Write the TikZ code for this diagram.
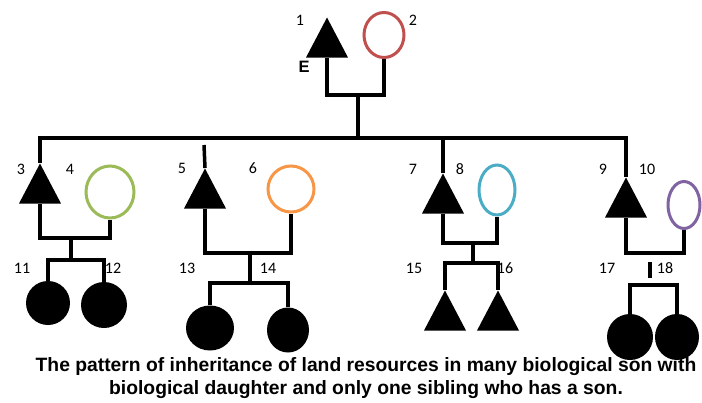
\documentclass[tikz,border=0pt]{standalone}
\usepackage{fontspec}
\setmainfont{Carlito}
\newfontfamily\capfont{Liberation Sans}
\usetikzlibrary{shapes.geometric}
\definecolor{wifered}{HTML}{C0504D}
\definecolor{wifegreen}{HTML}{9BBB59}
\definecolor{wifeorange}{HTML}{F79646}
\definecolor{wifeblue}{HTML}{4BACC6}
\definecolor{wifepurple}{HTML}{8064A2}
\tikzset{
    male/.style={
        isosceles triangle, isosceles triangle stretches,
        shape border rotate=90, fill=black, draw=none,
        minimum width=42pt, minimum height=40pt, inner sep=0pt,
        anchor=apex
    },
    wife/.style={
        ellipse, draw, line width=3pt, inner sep=0pt
    },
    daughter/.style={
        ellipse, fill=black, draw=none, inner sep=0pt
    },
    link/.style={line width=3.5pt},
    num/.style={font=\fontsize{16}{16}\selectfont},
    caption/.style={font=\capfont\bfseries\fontsize{19.3}{23}\selectfont, align=center}
}
\begin{document}
\begin{tikzpicture}[x=1pt, y=-1pt]
    \useasboundingbox (0,0) rectangle (702,402);

    % --- Generation 1: parents ---
    \node[male] (t1) at (327,17) {};
    \node[wife, draw=wifered, minimum width=40pt, minimum height=45pt] (c2) at (384,35) {};
    \node[num] (n1) at (300,20) {1};
    \node[num] (n2) at (413,20) {2};
    \node[font=\capfont\bfseries\fontsize{16.5}{16.5}\selectfont] (e1) at (304,67) {E};

    % --- Generation 2: sons and their wives ---
    \node[male] (t3) at (40,163) {};
    \node[wife, draw=wifegreen, minimum width=48pt, minimum height=52pt] (c4) at (110,192) {};
    \node[male] (t5) at (205,168) {};
    \node[wife, draw=wifeorange, minimum width=46pt, minimum height=46pt] (c6) at (291,189) {};
    \node[male] (t7) at (443,173) {};
    \node[wife, draw=wifeblue, minimum width=36pt, minimum height=50pt] (c8) at (497,190) {};
    \node[male] (t9) at (626,177) {};
    \node[wife, draw=wifepurple, minimum width=32pt, minimum height=47pt] (c10) at (684,205) {};

    \node[num] (n3)  at (21,169)  {3};
    \node[num] (n4)  at (70,169)  {4};
    \node[num] (n5)  at (182,168) {5};
    \node[num] (n6)  at (253,168) {6};
    \node[num] (n7)  at (413,169) {7};
    \node[num] (n8)  at (460,169) {8};
    \node[num] (n9)  at (603,169) {9};
    \node[num] (n10) at (647,169) {10};

    % --- Generation 3: grandchildren ---
    \node[daughter, minimum width=44pt, minimum height=44pt] (c11) at (48,303) {};
    \node[daughter, minimum width=46pt, minimum height=46pt] (c12) at (104,305) {};
    \node[daughter, minimum width=48pt, minimum height=45pt] (c13) at (210,328) {};
    \node[daughter, minimum width=42pt, minimum height=45pt] (c14) at (288,330) {};
    \node[male] (t15) at (445,290) {};
    \node[male] (t16) at (498,290) {};
    \node[daughter, minimum width=46pt, minimum height=46pt] (c17) at (630,337) {};
    \node[daughter, minimum width=44pt, minimum height=46pt] (c18) at (677,337) {};

    \node[num] (n11) at (22,268)  {11};
    \node[num] (n12) at (113,268) {12};
    \node[num] (n13) at (187,268) {13};
    \node[num] (n14) at (268,268) {14};
    \node[num] (n15) at (414,268) {15};
    \node[num] (n16) at (505,268) {16};
    \node[num] (n17) at (607,268) {17};
    \node[num] (n18) at (665,268) {18};

    % --- Junction points ---
    \coordinate (m12)  at (358,95);
    \coordinate (bus)  at (358,138);
    \coordinate (s5)   at (204,145);
    \coordinate (m34)  at (71,238);
    \coordinate (k34)  at (71,260);
    \coordinate (m56)  at (250,253);
    \coordinate (k56)  at (250,283);
    \coordinate (m78)  at (473,243);
    \coordinate (k78)  at (473,263);
    \coordinate (m910) at (657,253);
    \coordinate (b910) at (650,262);
    \coordinate (e910) at (650,278);
    \coordinate (k910) at (653,285);

    % --- Lines ---
    \draw[link] (t1.south) |- (m12) -| (c2.south);
    \draw[link] (m12) -- (bus);
    \draw[link] (t3.apex) |- (bus) -| (t9.apex);
    \draw[link] (t7.apex) -- (t7.apex |- bus);
    \draw[link] (t5.apex) -- (s5);

    \draw[link] (t3.south) |- (m34) -| (c4.south);
    \draw[link] (m34) -- (k34);
    \draw[link] (c11.north) |- (k34) -| (c12.north);

    \draw[link] (t5.south) |- (m56) -| (c6.south);
    \draw[link] (m56) -- (k56);
    \draw[link] (c13.north) |- (k56) -| (c14.north);

    \draw[link] (t7.south) |- (m78) -| (c8.south);
    \draw[link] (m78) -- (k78);
    \draw[link] (t15.apex) |- (k78) -| (t16.apex);

    \draw[link] (t9.south) |- (m910) -| (c10.south);
    \draw[link] (b910) -- (e910);
    \draw[link] (c17.north) |- (k910) -| (c18.north);

    % --- Caption ---
    \node[caption] (cap) at (366,378) {The pattern of inheritance of land resources in many biological son with\\biological daughter and only one sibling who has a son.};

\end{tikzpicture}
\end{document}
